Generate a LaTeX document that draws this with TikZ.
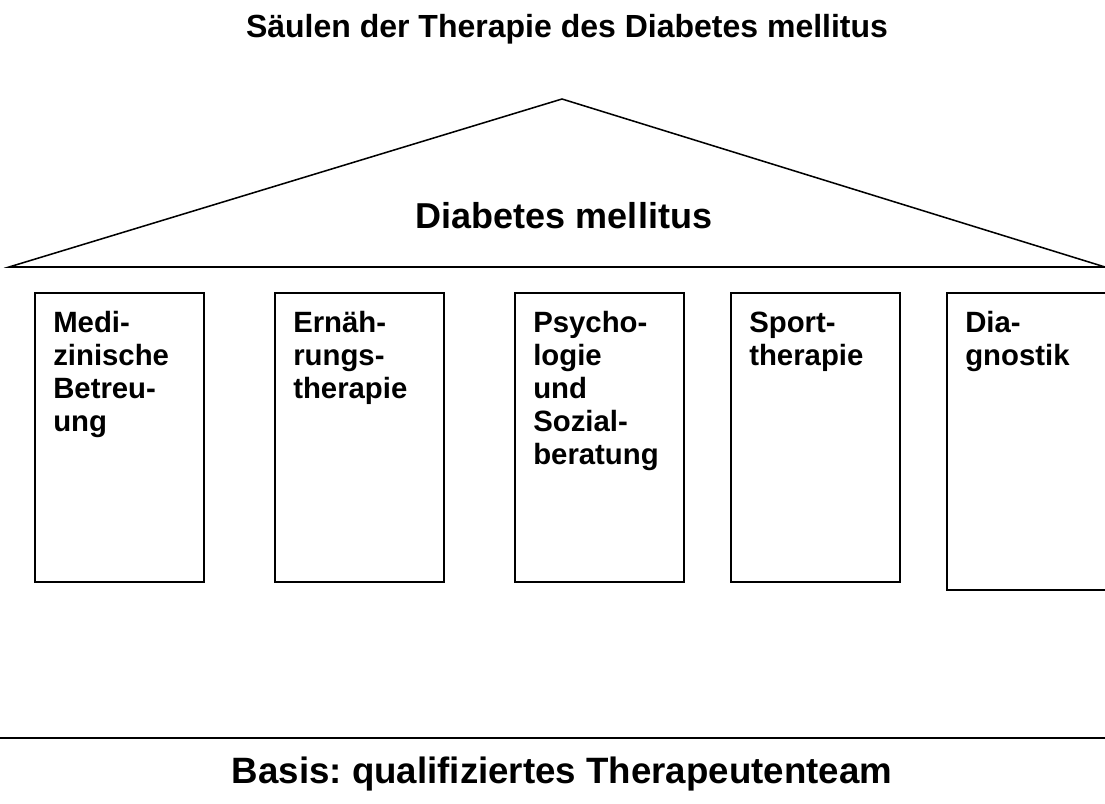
\documentclass[tikz,border=0pt]{standalone}
\usepackage{fontspec}
\setmainfont{Liberation Sans}
\frenchspacing
\begin{document}
\begin{tikzpicture}[x=0.75pt,y=-0.75pt,
  pillar/.style={draw, line width=1.15pt, minimum width=126.75pt, minimum height=216.75pt, anchor=north west, inner sep=0pt},
  pillartext/.style={anchor=north west, align=left, inner sep=0pt, font=\fontsize{22}{24.75}\selectfont\bfseries},
  roofline/.style={line width=1.15pt, line join=miter},
  bigtext/.style={anchor=base, inner sep=0pt, font=\fontsize{27.5}{32}\selectfont\bfseries}]
\useasboundingbox (0,0) rectangle (1105,803);
\clip (0,0) rectangle (1105,803);
% title
\node[anchor=base, inner sep=0pt, font=\fontsize{24}{28}\selectfont\bfseries] (title) at (567,37) {Säulen der Therapie des Diabetes mellitus};
% roof
\coordinate (roofL) at (9,267);
\coordinate (apex) at (562,99);
\coordinate (roofR) at (1105,267);
\draw[roofline] (roofL) -- (apex) -- (roofR) -- cycle;
\node[bigtext, font=\fontsize{27}{32}\selectfont\bfseries] (roofname) at (564,228) {Diabetes mellitus};
% pillars
\node[pillar] (b1) at (34,292) {};
\node[pillar] (b2) at (274,292) {};
\node[pillar] (b3) at (514,292) {};
\node[pillar] (b4) at (730,292) {};
\node[pillar, minimum height=222.75pt] (b5) at (946,292) {};
\newcommand{\firstline}{\rule{0pt}{16pt}}
\node[pillartext] (t1) at ([xshift=14.25pt,yshift=-14pt]b1.north west) {\firstline Medi-\\zinische\\Betreu-\\ung};
\node[pillartext] (t2) at ([xshift=14.25pt,yshift=-14pt]b2.north west) {\firstline Ernäh-\\rungs-\\therapie};
\node[pillartext] (t3) at ([xshift=14.25pt,yshift=-14pt]b3.north west) {\firstline Psycho-\\logie\\und\\Sozial-\\beratung};
\node[pillartext] (t4) at ([xshift=14.25pt,yshift=-14pt]b4.north west) {\firstline Sport-\\therapie};
\node[pillartext] (t5) at ([xshift=14.25pt,yshift=-14pt]b5.north west) {\firstline Dia-\\gnostik};
% base
\coordinate (baseL) at (0,738);
\coordinate (baseR) at (1105,738);
\draw[line width=1.6pt] (baseL) -- (baseR);
\node[bigtext] (basis) at (562,783) {Basis: qualifiziertes Therapeutenteam};
\end{tikzpicture}
\end{document}
